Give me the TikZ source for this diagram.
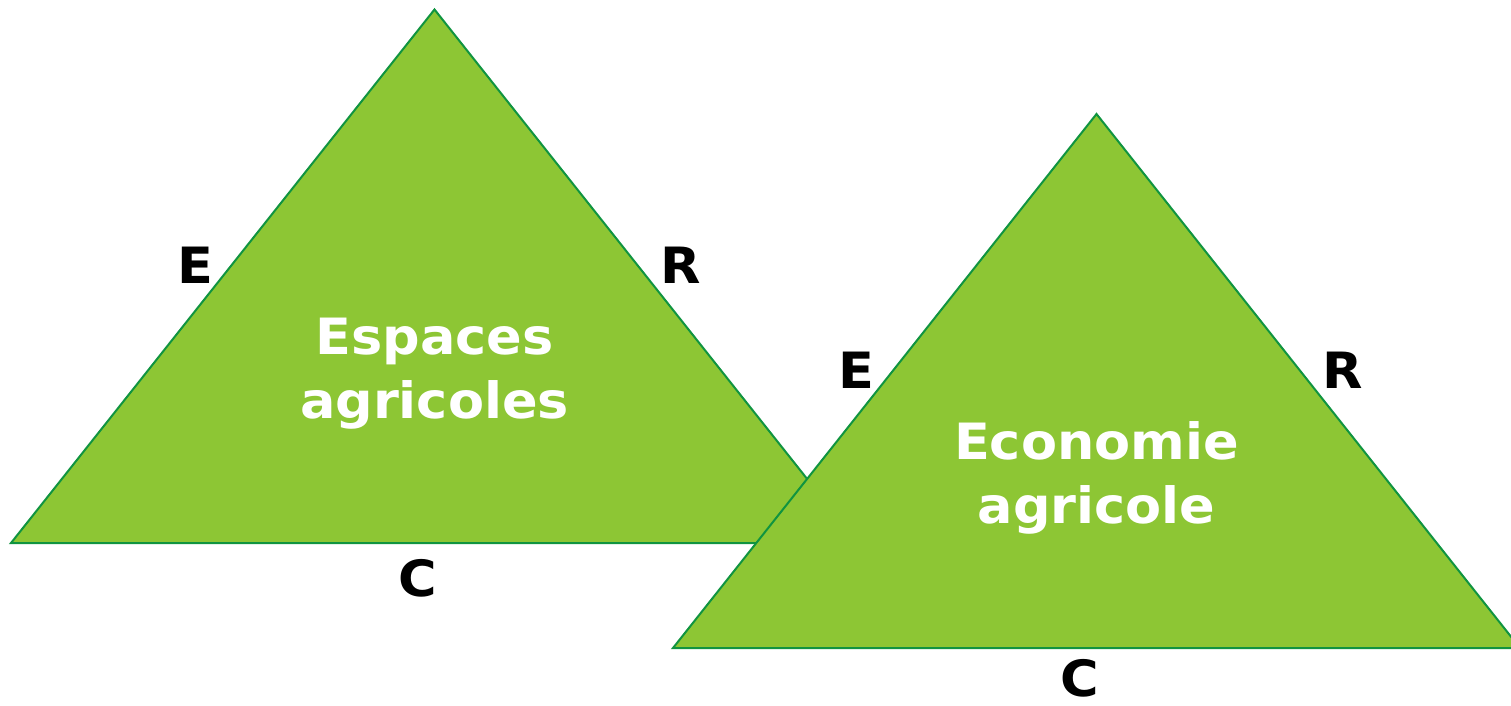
\documentclass[tikz,border=0pt]{standalone}
\usepackage{fontspec}
\setmainfont{DejaVu Sans}
\newfontfamily\vfont[FakeStretch=1.05]{DejaVu Sans}
\definecolor{trifill}{RGB}{141,198,52}
\definecolor{triline}{RGB}{16,148,64}
\tikzset{
  tri/.style={fill=trifill, draw=triline, line width=2pt, line join=miter},
  title/.style={text=white, font=\vfont\bfseries\fontsize{50}{64}\selectfont, align=center, inner sep=0pt, anchor=base},
  lbl/.style={text=black, font=\vfont\bfseries\fontsize{50}{60}\selectfont, inner sep=0pt, anchor=base}
}
\begin{document}
\begin{tikzpicture}[x=1pt,y=-1pt]
\useasboundingbox (0,0) rectangle (1511,705);
\clip (0,0) rectangle (1511,705);
% triangle 1
\coordinate (a1) at (434.5,9.5);
\coordinate (b1) at (11,543);
\coordinate (c1) at (858,543);
\draw[tri] (a1) -- (b1) -- (c1) -- cycle;
% triangle 2
\coordinate (a2) at (1096.5,114);
\coordinate (b2) at (673,648);
\coordinate (c2) at (1520,648);
\draw[tri] (a2) -- (b2) -- (c2) -- cycle;
% titles (base = baseline of last line)
\node[title] (t1) at (434.5,418.5) {Espaces\\agricoles};
\node[title] (t2) at (1096.5,523) {Economie\\agricole};
% labels
\node[lbl] (e1) at (195,283.3) {E};
\node[lbl] (r1) at (681,283.3) {R};
\node[lbl] (k1) at (418,596) {C};
\node[lbl] (e2) at (856,388) {E};
\node[lbl] (r2) at (1343,388) {R};
\node[lbl] (k2) at (1080,696) {C};
\end{tikzpicture}
\end{document}
